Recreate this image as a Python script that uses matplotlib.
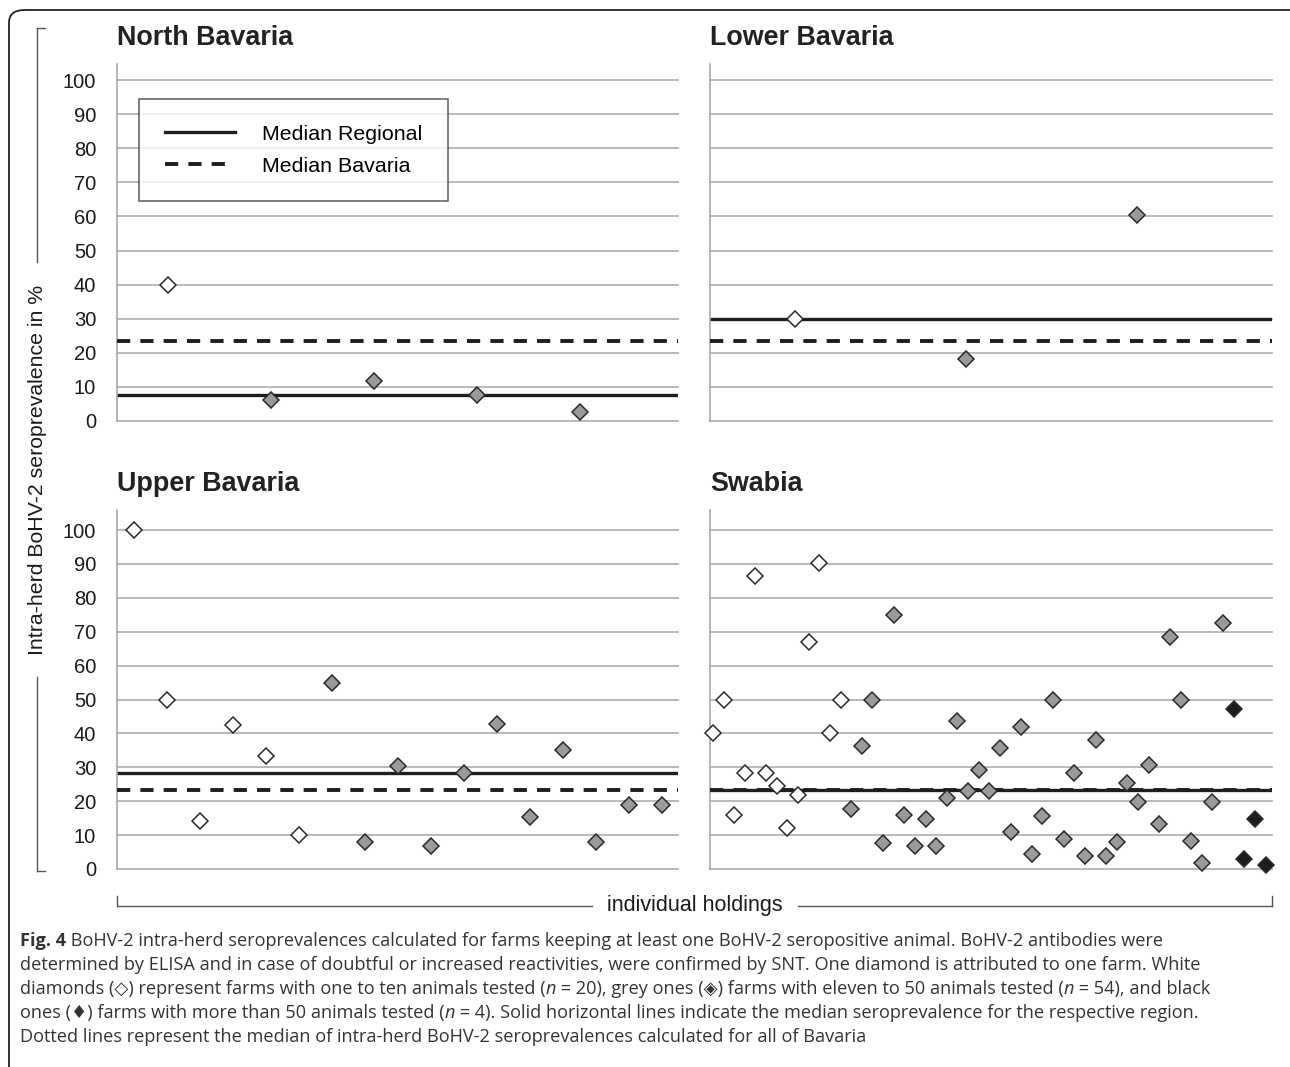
import matplotlib
matplotlib.use("Agg")
import matplotlib.pyplot as plt
from matplotlib.lines import Line2D
from matplotlib.patches import FancyBboxPatch

W, H = 1290, 1067

# values (intra-herd seroprevalence in %)
# class: 0 = 1-10 animals tested (white), 1 = 11-50 (grey), 2 = >50 (black)
north_vals = [40.0, 6.3, 11.7, 7.5, 2.5]
north_cls = [0, 1, 1, 1, 1]

lower_vals = [30.0, 18.1, 60.3]
lower_cls = [0, 1, 1]

upper_vals = [100.0, 50.0, 14.2, 42.6, 33.3, 10.0, 55.0, 8.0, 30.3, 6.8,
              28.4, 42.9, 15.4, 35.0, 8.0, 18.8, 18.8]
upper_cls = [0] * 6 + [1] * 11

swabia_vals = [40.0, 49.8, 16.0, 28.4, 86.3, 28.4, 24.6, 12.1, 21.7, 67.0,
               90.2, 40.0, 49.8, 17.6, 36.3, 50.0, 7.6, 74.8, 16.0, 6.7,
               14.7, 6.7, 20.9, 43.7, 23.0, 29.2, 23.0, 35.6, 10.8, 41.8,
               4.5, 15.5, 50.0, 8.9, 28.4, 3.9, 38.0, 3.9, 8.1, 25.5,
               19.9, 30.7, 13.3, 68.4, 50.0, 8.4, 1.8, 19.9, 72.5, 47.1,
               2.9, 14.7, 1.3]
swabia_cls = [0] * 13 + [1] * 36 + [2] * 4

regional_median = {"North Bavaria": 7.5, "Lower Bavaria": 30.0,
                   "Upper Bavaria": 28.4, "Swabia": 23.3}
bavaria_median = 23.4

yticks = list(range(0, 101, 10))

fills = ["white", "#9a9a9a", "#1c1c1c"]

plt.rcParams["font.family"] = ["Liberation Sans", "DejaVu Sans"]

fig = plt.figure(figsize=(W / 100, H / 100), dpi=100)


def fx(x):
    return x / W


def fy(y):
    return 1 - y / H


def add_panel(left, top, right, bottom, ytop):
    ax = fig.add_axes([fx(left), fy(bottom), fx(right - left), (bottom - top) / H])
    ax.set_ylim(0, ytop)
    for s in ["top", "right", "bottom"]:
        ax.spines[s].set_visible(False)
    ax.spines["left"].set_color("#aaaaaa")
    ax.spines["left"].set_linewidth(1.2)
    ax.set_xticks([])
    for t in yticks:
        ax.axhline(t, color="#b4b4b4", lw=1.3, zorder=1, clip_on=False)
    return ax


panels = [
    ("North Bavaria", north_vals, north_cls, (117, 64, 678, 421), 104.7, (0.5, 5.95), True),
    ("Lower Bavaria", lower_vals, lower_cls, (710, 64, 1272, 421), 104.7, (0.5, 3.79), False),
    ("Upper Bavaria", upper_vals, upper_cls, (117, 510, 678, 869), 105.9, (0.49, 17.49), True),
    ("Swabia", swabia_vals, swabia_cls, (710, 510, 1272, 869), 105.9, (0.72, 53.6), False),
]

axes = {}
for name, vals, cls, box, ytop, xl, show_ticks in panels:
    ax = add_panel(*box, ytop)
    ax.set_xlim(*xl)
    if show_ticks:
        ax.set_yticks(yticks)
        ax.tick_params(axis="y", length=0, pad=15, labelsize=14.5, labelcolor="#1a1a1a")
    else:
        ax.set_yticks([])
    reg = ax.axhline(regional_median[name], color="#1e1e1e", lw=2.4, zorder=2,
                     label="Median Regional")
    bav = ax.axhline(bavaria_median, color="#1e1e1e", lw=2.8, zorder=3,
                     dashes=(3.4, 2.6), label="Median Bavaria")
    xs = list(range(1, len(vals) + 1))
    for k in range(3):
        px = [x for x, c in zip(xs, cls) if c == k]
        py = [v for v, c in zip(vals, cls) if c == k]
        ax.plot(px, py, ls="none", marker="D", ms=8.0, mfc=fills[k],
                mec="#2a2a2a", mew=1.1, zorder=4, clip_on=False)
    fig.text(fx(box[0]), fy(38 if box[1] < 100 else 484), name, fontsize=19.4,
             fontweight="bold", color="#222222", va="center", ha="left")
    axes[name] = ax

leg = axes["North Bavaria"].legend(
    handles=[reg, bav], loc="upper left",
    bbox_to_anchor=(fx(139), fy(99)), bbox_transform=fig.transFigure,
    fontsize=15.4, frameon=True, fancybox=False, edgecolor="#333333",
    handlelength=3.3, handletextpad=1.25, borderpad=1.2, labelspacing=0.6,
    borderaxespad=0)
leg.get_frame().set_linewidth(1.1)
leg.set_zorder(10)

# y label with bracket
fig.text(fx(38), fy(470), "Intra-herd BoHV-2 seroprevalence in %", rotation=90,
         fontsize=15.3, color="#1a1a1a", ha="center", va="center")
grey = "#555555"
for seg in [((45, 28), (37, 28)), ((37, 28), (37, 262)),
            ((37, 677), (37, 871)), ((37, 871), (45, 871))]:
    fig.add_artist(Line2D([fx(seg[0][0]), fx(seg[1][0])], [fy(seg[0][1]), fy(seg[1][1])],
                          color=grey, lw=1.0))

# x label with bracket
fig.text(fx(695), fy(906), "individual holdings", fontsize=15.5, color="#1a1a1a",
         ha="center", va="center")
for seg in [((117, 896), (117, 906)), ((117, 906), (592, 906)),
            ((798, 906), (1272, 906)), ((1272, 906), (1272, 896))]:
    fig.add_artist(Line2D([fx(seg[0][0]), fx(seg[1][0])], [fy(seg[0][1]), fy(seg[1][1])],
                          color=grey, lw=1.0))

# rounded border
fig.add_artist(FancyBboxPatch((fx(9), fy(1120)), fx(1320 - 9), (1120 - 10) / H,
                              boxstyle="round,pad=0,rounding_size=0.012",
                              transform=fig.transFigure, fill=False,
                              edgecolor="#222222", lw=1.3))

# caption
cap_font = ["Open Sans", "DejaVu Sans"]
cap_size = 13.1
cap_color = "#333333"
N = ("n", {"style": "italic"})
B = {"fontweight": "bold"}
caption = [
    [("Fig. 4", B), (" BoHV-2 intra-herd seroprevalences calculated for farms keeping at least one "
                     "BoHV-2 seropositive animal. BoHV-2 antibodies were", {})],
    [("determined by ELISA and in case of doubtful or increased reactivities, were confirmed by "
      "SNT. One diamond is attributed to one farm. White", {})],
    [("diamonds (\u25c7) represent farms with one to ten animals tested (", {}), N,
     (" = 20), grey ones (\u25c8) farms with eleven to 50 animals tested (", {}), N,
     (" = 54), and black", {})],
    [("ones (\u2666) farms with more than 50 animals tested (", {}), N,
     (" = 4). Solid horizontal lines indicate the median seroprevalence for the respective region.", {})],
    [("Dotted lines represent the median of intra-herd BoHV-2 seroprevalences calculated "
      "for all of Bavaria", {})],
]

renderer = fig.canvas.get_renderer()


def run_width(s, kw):
    t1 = fig.text(0, 0, "|" + s + "|", fontsize=cap_size, family=cap_font, **kw)
    t2 = fig.text(0, 0, "||", fontsize=cap_size, family=cap_font, **kw)
    w = t1.get_window_extent(renderer).width - t2.get_window_extent(renderer).width
    t1.remove()
    t2.remove()
    return w


for i, line in enumerate(caption):
    x = 20
    y = 946 + 24 * i
    for s, kw in line:
        fig.text(fx(x), fy(y), s, fontsize=cap_size, family=cap_font, color=cap_color,
                 va="baseline", ha="left", **kw)
        x += run_width(s, kw)

fig.savefig("out.png", dpi=100)
